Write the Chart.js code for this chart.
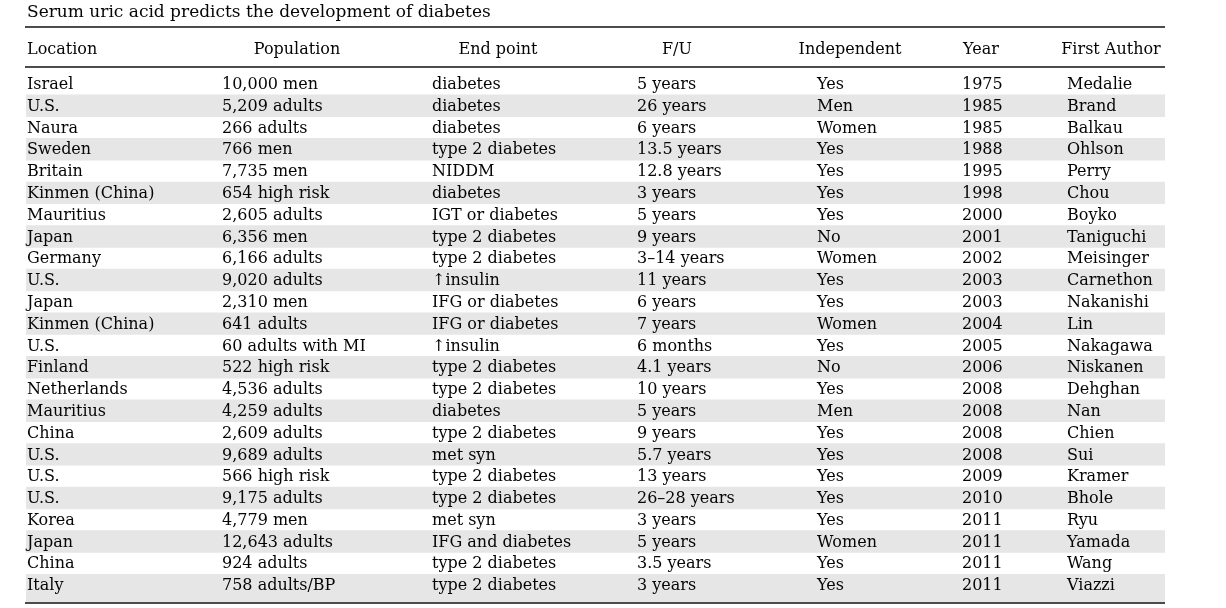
<!DOCTYPE html>
<html>
<head>
<meta charset="utf-8">
<script src="https://cdn.jsdelivr.net/npm/chart.js@4.4.1/dist/chart.umd.min.js"></script>
<style>
  html, body { margin: 0; padding: 0; background: #ffffff; }
  #wrap { width: 1226px; height: 608px; }
</style>
</head>
<body>
<div id="wrap"><canvas id="tableChart" width="1226" height="608"></canvas></div>
<script>
// Table contents
const titleText = "Serum uric acid predicts the development of diabetes";
const headers = ["Location", "Population", "End point", "F/U", "Independent", "Year", "First Author"];

const locations = ["Israel", "U.S.", "Naura", "Sweden", "Britain", "Kinmen (China)", "Mauritius", "Japan",
  "Germany", "U.S.", "Japan", "Kinmen (China)", "U.S.", "Finland", "Netherlands", "Mauritius", "China",
  "U.S.", "U.S.", "U.S.", "Korea", "Japan", "China", "Italy"];
const populations = ["10,000 men", "5,209 adults", "266 adults", "766 men", "7,735 men", "654 high risk",
  "2,605 adults", "6,356 men", "6,166 adults", "9,020 adults", "2,310 men", "641 adults", "60 adults with MI",
  "522 high risk", "4,536 adults", "4,259 adults", "2,609 adults", "9,689 adults", "566 high risk",
  "9,175 adults", "4,779 men", "12,643 adults", "924 adults", "758 adults/BP"];
const endPoints = ["diabetes", "diabetes", "diabetes", "type 2 diabetes", "NIDDM", "diabetes", "IGT or diabetes",
  "type 2 diabetes", "type 2 diabetes", "\u2191insulin", "IFG or diabetes", "IFG or diabetes", "\u2191insulin",
  "type 2 diabetes", "type 2 diabetes", "diabetes", "type 2 diabetes", "met syn", "type 2 diabetes",
  "type 2 diabetes", "met syn", "IFG and diabetes", "type 2 diabetes", "type 2 diabetes"];
const followUps = ["5 years", "26 years", "6 years", "13.5 years", "12.8 years", "3 years", "5 years", "9 years",
  "3\u201314 years", "11 years", "6 years", "7 years", "6 months", "4.1 years", "10 years", "5 years", "9 years",
  "5.7 years", "13 years", "26\u201328 years", "3 years", "5 years", "3.5 years", "3 years"];
const independent = ["Yes", "Men", "Women", "Yes", "Yes", "Yes", "Yes", "No", "Women", "Yes", "Yes", "Women",
  "Yes", "No", "Yes", "Men", "Yes", "Yes", "Yes", "Yes", "Yes", "Women", "Yes", "Yes"];
const years = ["1975", "1985", "1985", "1988", "1995", "1998", "2000", "2001", "2002", "2003", "2003", "2004",
  "2005", "2006", "2008", "2008", "2008", "2008", "2009", "2010", "2011", "2011", "2011", "2011"];
const authors = ["Medalie", "Brand", "Balkau", "Ohlson", "Perry", "Chou", "Boyko", "Taniguchi", "Meisinger",
  "Carnethon", "Nakanishi", "Lin", "Nakagawa", "Niskanen", "Dehghan", "Nan", "Chien", "Sui", "Kramer",
  "Bhole", "Ryu", "Yamada", "Wang", "Viazzi"];

const columns = [locations, populations, endPoints, followUps, independent, years, authors];

// layout (table units along the x scale)
const tableWidth = 1139;
const colLeft = [1, 196, 406, 611, 791, 936, 1041];
const headCenter = [null, 271, 472, 651, 824, 955, 1085];
const fontFamily = "'DejaVu Serif', serif";
const fontSize = 16;
const titleSize = 17;
const textColor = "#050505";
const shadeColor = "#e6e6e6";

// alternating shaded bands, every second row
const bandData = locations.map((_, i) => (i % 2 === 1 ? [0, tableWidth] : null));

const tablePlugin = {
  id: "tableText",
  afterDatasetsDraw(chart) {
    const ctx = chart.ctx;
    const xs = chart.scales.x;
    const ys = chart.scales.y;
    const area = chart.chartArea;
    const left = xs.getPixelForValue(0);
    const right = xs.getPixelForValue(tableWidth);

    ctx.save();
    // extra shading below the last row, down to the bottom rule
    if ((locations.length - 1) % 2 === 1) {
      ctx.fillStyle = shadeColor;
      ctx.fillRect(left, area.bottom - 1, right - left, 7);
    }

    // rules
    ctx.strokeStyle = "#111";
    ctx.lineWidth = 1.5;
    [area.top - 46, area.top - 6, area.bottom + 7].forEach(y => {
      ctx.beginPath();
      ctx.moveTo(left - 1, y);
      ctx.lineTo(right, y);
      ctx.stroke();
    });

    ctx.fillStyle = textColor;
    ctx.textBaseline = "middle";

    // title
    ctx.font = titleSize + "px " + fontFamily;
    ctx.textAlign = "left";
    ctx.fillText(titleText, xs.getPixelForValue(1), area.top - 60);

    // headers
    ctx.font = fontSize + "px " + fontFamily;
    headers.forEach((h, j) => {
      if (headCenter[j] === null) {
        ctx.textAlign = "left";
        ctx.fillText(h, xs.getPixelForValue(colLeft[j]), area.top - 23);
      } else {
        ctx.textAlign = "center";
        ctx.fillText(h, xs.getPixelForValue(headCenter[j]), area.top - 23);
      }
    });

    // body cells
    ctx.textAlign = "left";
    columns.forEach((col, j) => {
      col.forEach((cell, i) => {
        ctx.fillText(cell, xs.getPixelForValue(colLeft[j]), ys.getPixelForValue(i) + 1);
      });
    });
    ctx.restore();
  }
};

new Chart(document.getElementById("tableChart"), {
  type: "bar",
  data: {
    labels: locations.map((l, i) => i + ":" + l),
    datasets: [{
      data: bandData,
      backgroundColor: shadeColor,
      borderWidth: 0,
      categoryPercentage: 1,
      barPercentage: 1
    }]
  },
  options: {
    indexAxis: "y",
    responsive: false,
    animation: false,
    layout: { padding: { left: 26, right: 61, top: 73, bottom: 12 } },
    plugins: { legend: { display: false }, tooltip: { enabled: false }, title: { display: false } },
    scales: {
      x: { type: "linear", min: 0, max: tableWidth, display: false },
      y: { type: "category", display: false }
    }
  },
  plugins: [tablePlugin]
});
</script>
</body>
</html>
